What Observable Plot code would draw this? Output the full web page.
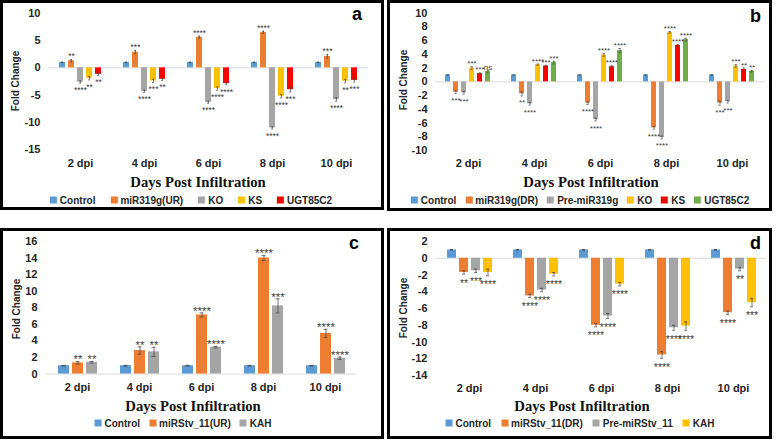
<!DOCTYPE html>
<html>
<head>
<meta charset="utf-8">
<script src="https://cdn.jsdelivr.net/npm/d3@7"></script>
<script src="https://cdn.jsdelivr.net/npm/@observablehq/plot@0.6"></script>
<style>
  html, body { margin: 0; padding: 0; background: #fff; }
  body { width: 778px; height: 442px; position: relative; overflow: hidden; font-family: "Liberation Sans", Arial, sans-serif; }
  .panel { position: absolute; box-sizing: border-box; border: 3px solid #000; background: #fff; }
  .panel .plot { position: absolute; left: 0; top: 0; }
  .ylab { position: absolute; font-size: 10px; font-weight: bold; color: #262626; white-space: nowrap; transform: translate(-50%, -50%) rotate(-90deg); }
  .xtitle { position: absolute; font-family: "Liberation Serif", "Times New Roman", serif; font-weight: bold; font-size: 14.7px; color: #111; white-space: nowrap; transform: translate(-50%, -50%); }
  .legend { position: absolute; display: flex; align-items: center; white-space: nowrap; transform: translate(-50%, -50%); font-size: 10px; font-weight: bold; color: #262626; }
  .legend .item { display: flex; align-items: center; }
  .legend .sw { width: 7px; height: 7px; margin-right: 3px; }
  .letter { position: absolute; font-size: 18px; line-height: 18px; font-weight: bold; color: #000; }
</style>
</head>
<body>
<script>
// ---------- shared categories ----------
const dpi = ["2 dpi", "4 dpi", "6 dpi", "8 dpi", "10 dpi"];
const control = [1, 1, 1, 1, 1];
const controlErr = [0.05, 0.05, 0.05, 0.05, 0.05];
const noStars = ["", "", "", "", ""];

// ---------- panel a ----------
const aSeries = ["Control", "miR319g(UR)", "KO", "KS", "UGT85C2"];
const aColors = ["#5B9BD5", "#ED7D31", "#A5A5A5", "#FFC000", "#FF0000"];
const aMiR = [1.3, 2.85, 5.6, 6.5, 2.1];
const aKO = [-2.6, -4.3, -6.3, -11.0, -5.8];
const aKS = [-1.9, -2.4, -3.8, -5.2, -2.45];
const aUGT = [-1.2, -2.1, -2.9, -4.0, -2.3];
const aMiRErr = [0.2, 0.3, 0.2, 0.2, 0.3];
const aKOErr = [0.2, 0.2, 0.2, 0.2, 0.3];
const aKSErr = [0.3, 0.3, 0.3, 0.3, 0.3];
const aUGTErr = [0.2, 0.2, 0.2, 0.4, 0.3];
const aMiRStars = ["**", "***", "****", "****", "***"];
const aKOStars = ["****", "****", "****", "****", "****"];
const aKSStars = ["**", "***", "****", "****", "**"];
const aUGTStars = ["**", "**", "****", "***", "***"];
const aTicks = [-15, -10, -5, 0, 5, 10];

// ---------- panel b ----------
const bSeries = ["Control", "miR319g(DR)", "Pre-miR319g", "KO", "KS", "UGT85C2"];
const bColors = ["#5B9BD5", "#ED7D31", "#A5A5A5", "#FFC000", "#FF0000", "#70AD47"];
const bMiR = [-1.5, -1.75, -3.1, -6.7, -3.1];
const bPre = [-1.6, -3.2, -5.5, -8.1, -2.9];
const bKO = [2.0, 2.5, 3.9, 7.2, 2.3];
const bKS = [1.2, 2.3, 2.2, 5.3, 1.8];
const bUGT = [1.5, 2.8, 4.55, 6.15, 1.55];
const bMiRErr = [0.2, 0.3, 0.2, 0.2, 0.3];
const bPreErr = [0.2, 0.2, 0.2, 0.2, 0.2];
const bKOErr = [0.2, 0.1, 0.2, 0.15, 0.2];
const bKSErr = [0.1, 0.1, 0.15, 0.15, 0.2];
const bUGTErr = [0.2, 0.2, 0.3, 0.2, 0.1];
const bMiRStars = ["***", "**", "****", "****", "***"];
const bPreStars = ["***", "****", "****", "****", "***"];
const bKOStars = ["***", "****", "****", "****", "***"];
const bKSStars = ["***", "***", "****", "****", "**"];
const bUGTStars = ["ns", "***", "****", "****", "**"];
const bTicks = [-10, -8, -6, -4, -2, 0, 2, 4, 6, 8, 10];

// ---------- panel c ----------
const cSeries = ["Control", "miRStv_11(UR)", "KAH"];
const cColors = ["#5B9BD5", "#ED7D31", "#A5A5A5"];
const cMiR = [1.34, 2.83, 7.13, 14.0, 4.9];
const cKAH = [1.42, 2.67, 3.24, 8.22, 1.9];
const cMiRErr = [0.15, 0.45, 0.25, 0.3, 0.5];
const cKAHErr = [0.1, 0.55, 0.1, 0.85, 0.15];
const cMiRStars = ["**", "**", "****", "****", "****"];
const cKAHStars = ["**", "**", "****", "***", "****"];
const cTicks = [0, 2, 4, 6, 8, 10, 12, 14, 16];

// ---------- panel d ----------
const dSeries = ["Control", "miRStv_11(DR)", "Pre-miRStv_11", "KAH"];
const dColors = ["#5B9BD5", "#ED7D31", "#A5A5A5", "#FFC000"];
const dMiR = [-1.7, -4.5, -8.0, -11.55, -6.5];
const dPre = [-1.5, -3.8, -6.9, -8.3, -1.3];
const dKAH = [-1.7, -1.9, -3.1, -8.1, -5.3];
const dMiRErr = [0.2, 0.2, 0.2, 0.4, 0.2];
const dPreErr = [0.2, 0.2, 0.3, 0.3, 0.2];
const dKAHErr = [0.4, 0.2, 0.2, 0.5, 0.5];
const dMiRStars = ["**", "****", "****", "****", "****"];
const dPreStars = ["***", "****", "****", "****", "**"];
const dKAHStars = ["****", "****", "****", "****", "***"];
const dTicks = [-14, -12, -10, -8, -6, -4, -2, 0, 2];

function buildRows(series, values, errs, stars) {
  const rows = [];
  series.forEach((s, i) => {
    dpi.forEach((d, j) => {
      rows.push({dpi: d, series: s, value: values[i][j], err: errs[i][j], star: stars[i][j]});
    });
  });
  rows.forEach(r => {
    r.lo = r.value - r.err;
    r.hi = r.value + r.err;
  });
  return rows;
}

function drawPanel(cfg) {
  const panel = document.createElement("div");
  panel.className = "panel";
  Object.assign(panel.style, {left: cfg.box[0] + "px", top: cfg.box[1] + "px", width: cfg.box[2] + "px", height: cfg.box[3] + "px"});
  document.body.appendChild(panel);

  const rows = cfg.rows;
  const pos = rows.filter(r => r.star && r.value >= 0);
  const neg = rows.filter(r => r.star && r.value < 0);

  const chart = Plot.plot({
    width: cfg.width, height: cfg.height,
    marginTop: cfg.m[0], marginRight: cfg.m[1], marginBottom: cfg.m[2], marginLeft: cfg.m[3],
    style: "font-family: 'Liberation Sans', Arial, sans-serif; font-size: 11px; font-weight: bold; color: #262626; background: transparent; overflow: visible;",
    fx: {domain: dpi, paddingInner: 0, paddingOuter: 0, label: null, axis: "bottom", tickSize: 0, tickPadding: 9},
    x: {domain: cfg.series, axis: null, paddingInner: cfg.pad[0], paddingOuter: cfg.pad[1]},
    y: {domain: [cfg.ticks[0], cfg.ticks[cfg.ticks.length - 1]], ticks: cfg.ticks, tickSize: 0, tickPadding: cfg.tickPad, label: null, tickFormat: d => String(d)},
    color: {domain: cfg.series, range: cfg.colors},
    marks: [
      Plot.ruleY([0], {stroke: "#d9d9d9", strokeWidth: 1}),
      Plot.barY(rows, {fx: "dpi", x: "series", y: "value", fill: "series"}),
      Plot.ruleX(rows, {fx: "dpi", x: "series", y1: "lo", y2: "hi", stroke: "#404040", strokeWidth: 0.7}),
      Plot.tickY(rows, {fx: "dpi", x: "series", y: "lo", stroke: "#404040", strokeWidth: 0.7, insetLeft: cfg.cap, insetRight: cfg.cap}),
      Plot.tickY(rows, {fx: "dpi", x: "series", y: "hi", stroke: "#404040", strokeWidth: 0.7, insetLeft: cfg.cap, insetRight: cfg.cap}),
      Plot.text(pos, {fx: "dpi", x: "series", y: "hi", text: "star", fontSize: cfg.starSize, fontWeight: "normal", fill: "#404040", dy: cfg.starDy[0]}),
      Plot.text(neg, {fx: "dpi", x: "series", y: "lo", text: "star", fontSize: cfg.starSize, fontWeight: "normal", fill: "#404040", dy: cfg.starDy[1]})
    ]
  });
  const holder = document.createElement("div");
  holder.className = "plot";
  holder.appendChild(chart);
  panel.appendChild(holder);

  const yl = document.createElement("div");
  yl.className = "ylab";
  yl.textContent = "Fold Change";
  yl.style.left = cfg.ylab[0] + "px";
  yl.style.top = cfg.ylab[1] + "px";
  panel.appendChild(yl);

  const xt = document.createElement("div");
  xt.className = "xtitle";
  xt.textContent = "Days Post Infiltration";
  xt.style.left = cfg.title[0] + "px";
  xt.style.top = cfg.title[1] + "px";
  panel.appendChild(xt);

  const lg = document.createElement("div");
  lg.className = "legend";
  lg.style.left = cfg.legend[0] + "px";
  lg.style.top = cfg.legend[1] + "px";
  lg.style.gap = cfg.legendGap + "px";
  cfg.series.forEach((s, i) => {
    const it = document.createElement("div");
    it.className = "item";
    const sw = document.createElement("span");
    sw.className = "sw";
    sw.style.background = cfg.colors[i];
    const tx = document.createElement("span");
    tx.textContent = s;
    it.appendChild(sw);
    it.appendChild(tx);
    lg.appendChild(it);
  });
  panel.appendChild(lg);

  const le = document.createElement("div");
  le.className = "letter";
  le.textContent = cfg.letter;
  le.style.left = cfg.letterPos[0] + "px";
  le.style.top = cfg.letterPos[1] + "px";
  panel.appendChild(le);
}

drawPanel({
  box: [0, 0, 384, 210], width: 378, height: 175, m: [9.7, 12, 28.7, 44],
  series: aSeries, colors: aColors, ticks: aTicks, tickPad: 8, pad: [0.3, 0.87], cap: 2,
  rows: buildRows(aSeries, [control, aMiR, aKO, aKS, aUGT], [controlErr, aMiRErr, aKOErr, aKSErr, aUGTErr], [noStars, aMiRStars, aKOStars, aKSStars, aUGTStars]),
  starSize: 8.5, starDy: [-3, 7],
  ylab: [12, 78], title: [195, 179], legend: [188, 197], legendGap: 15, letter: "a", letterPos: [349, 2.3]
});

drawPanel({
  box: [387, 0, 385, 211], width: 379, height: 176, m: [9.7, 4, 29, 44],
  series: bSeries, colors: bColors, ticks: bTicks, tickPad: 8, pad: [0.32, 1.0], cap: 1.5,
  rows: buildRows(bSeries, [control, bMiR, bPre, bKO, bKS, bUGT], [controlErr, bMiRErr, bPreErr, bKOErr, bKSErr, bUGTErr], [noStars, bMiRStars, bPreStars, bKOStars, bKSStars, bUGTStars]),
  starSize: 8, starDy: [-3, 7],
  ylab: [13, 77], title: [201, 179], legend: [190, 197], legendGap: 9, letter: "b", letterPos: [360, 3.8]
});

drawPanel({
  box: [0, 228, 384, 211], width: 378, height: 170, m: [10, 25, 27.5, 42],
  series: cSeries, colors: cColors, ticks: cTicks, tickPad: 9, pad: [0.24, 0.82], cap: 3.5,
  rows: buildRows(cSeries, [control, cMiR, cKAH], [controlErr, cMiRErr, cKAHErr], [noStars, cMiRStars, cKAHStars]),
  starSize: 11.5, starDy: [-2, 9],
  ylab: [13, 78], title: [190, 175], legend: [180, 192], legendGap: 9, letter: "c", letterPos: [346, 2.8]
});

drawPanel({
  box: [387, 228, 385, 211], width: 379, height: 170, m: [10, 2, 26, 44],
  series: dSeries, colors: dColors, ticks: dTicks, tickPad: 9, pad: [0.29, 0.69], cap: 3,
  rows: buildRows(dSeries, [control, dMiR, dPre, dKAH], [controlErr, dMiRErr, dPreErr, dKAHErr], [noStars, dMiRStars, dPreStars, dKAHStars]),
  starSize: 10.5, starDy: [-2, 9],
  ylab: [13, 77], title: [192, 175], legend: [190, 192], legendGap: 10, letter: "d", letterPos: [360, 2.8]
});
</script>
</body>
</html>
